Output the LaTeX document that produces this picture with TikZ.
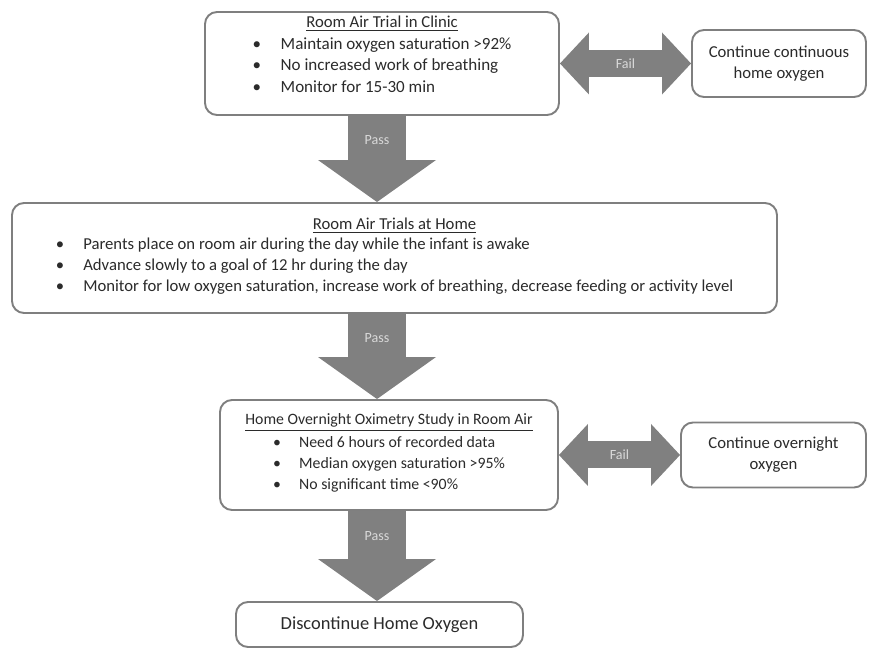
\documentclass[tikz,border=0pt]{standalone}
\usepackage{fontspec}
\setmainfont{Carlito}
\usetikzlibrary{arrows.meta,positioning}

\definecolor{boxline}{HTML}{7F7F7F}
\definecolor{arrowfill}{HTML}{808080}
\definecolor{labelgray}{HTML}{D9D9D9}
\definecolor{textgray}{HTML}{2B2B2B}

\def\px{0.02cm}
\newcommand{\bulletlist}[1]{\begin{tabular}{@{}l@{\hspace{1.15em}}l@{}}#1\end{tabular}}

\tikzset{
  box/.style={draw=boxline, line width=1.1pt, rounded corners=0.24cm,
    fill=white, align=center, text=textgray, inner sep=0pt,
    font=\fontsize{9}{12}\selectfont},
  passarrow/.style={draw=arrowfill, line width=58*\px,
    -{Triangle[length=42*\px,width=118*\px,line width=0pt]}},
  failarrow/.style={draw=arrowfill, line width=27*\px,
    {Triangle[length=29*\px,width=62*\px,line width=0pt]}-{Triangle[length=29*\px,width=62*\px,line width=0pt]}},
  arrowlabel/.style={text=labelgray, font=\fontsize{8}{10}\selectfont}
}

\begin{document}
\begin{tikzpicture}[x=0.02cm, y=-0.02cm]
  \useasboundingbox (0,0) rectangle (870,648);
  \coordinate (axis) at (377,0);

  % Step boxes
  \node[box, minimum width=354*\px, minimum height=103*\px,
    font=\fontsize{9.7}{12}\selectfont]
    (clinic) at (382,63.5) {{\fontsize{9.5}{12}\selectfont\underline{Room Air Trial in Clinic}}\\[1pt]
    \bulletlist{\textbullet & Maintain oxygen saturation >92\%\\
      \textbullet & No increased work of breathing\\
      \textbullet & Monitor for 15-30 min\\[7pt]}};
  \node[box, minimum width=174*\px, minimum height=67*\px,
    font=\fontsize{9.5}{12}\selectfont]
    (contday) at (779,63.5) {Continue continuous\\home oxygen};

  \node[box, minimum width=765*\px, minimum height=110*\px,
    font=\fontsize{9.5}{12}\selectfont]
    (home) at (394.5,258) {\underline{Room Air Trials at Home}\\
    \bulletlist{\textbullet & Parents place on room air during the day while the infant is awake\\
      \textbullet & Advance slowly to a goal of 12 hr during the day\\
      \textbullet & Monitor for low oxygen saturation, increase work of breathing, decrease feeding or activity level}};

  \node[box, minimum width=338*\px, minimum height=110*\px]
    (overnight) at (389,455) {\underline{Home Overnight Oximetry Study in Room Air}\\
    \bulletlist{\textbullet & Need 6 hours of recorded data\\
      \textbullet & Median oxygen saturation >95\%\\
      \textbullet & No significant time <90\%}};
  \node[box, minimum width=185*\px, minimum height=65*\px,
    font=\fontsize{9.5}{12}\selectfont]
    (contnight) at (773.5,455) {Continue overnight\\oxygen};

  \node[box, minimum width=287*\px, minimum height=45*\px,
    font=\fontsize{10.5}{12}\selectfont]
    (stop) at (379.5,624.5) {Discontinue Home Oxygen};

  % Pass arrows
  \draw[passarrow] (clinic.south -| axis) --
    node[arrowlabel, pos=0.28] {Pass} (home.north -| axis);
  \draw[passarrow] (home.south -| axis) --
    node[arrowlabel, pos=0.28] {Pass} (overnight.north -| axis);
  \draw[passarrow] (overnight.south -| axis) --
    node[arrowlabel, pos=0.28] {Pass} (stop.north -| axis);

  % Fail arrows
  \draw[failarrow] (clinic.east) -- node[arrowlabel] {Fail} (contday.west);
  \draw[failarrow] (overnight.east) -- node[arrowlabel] {Fail} (contnight.west);
\end{tikzpicture}
\end{document}
